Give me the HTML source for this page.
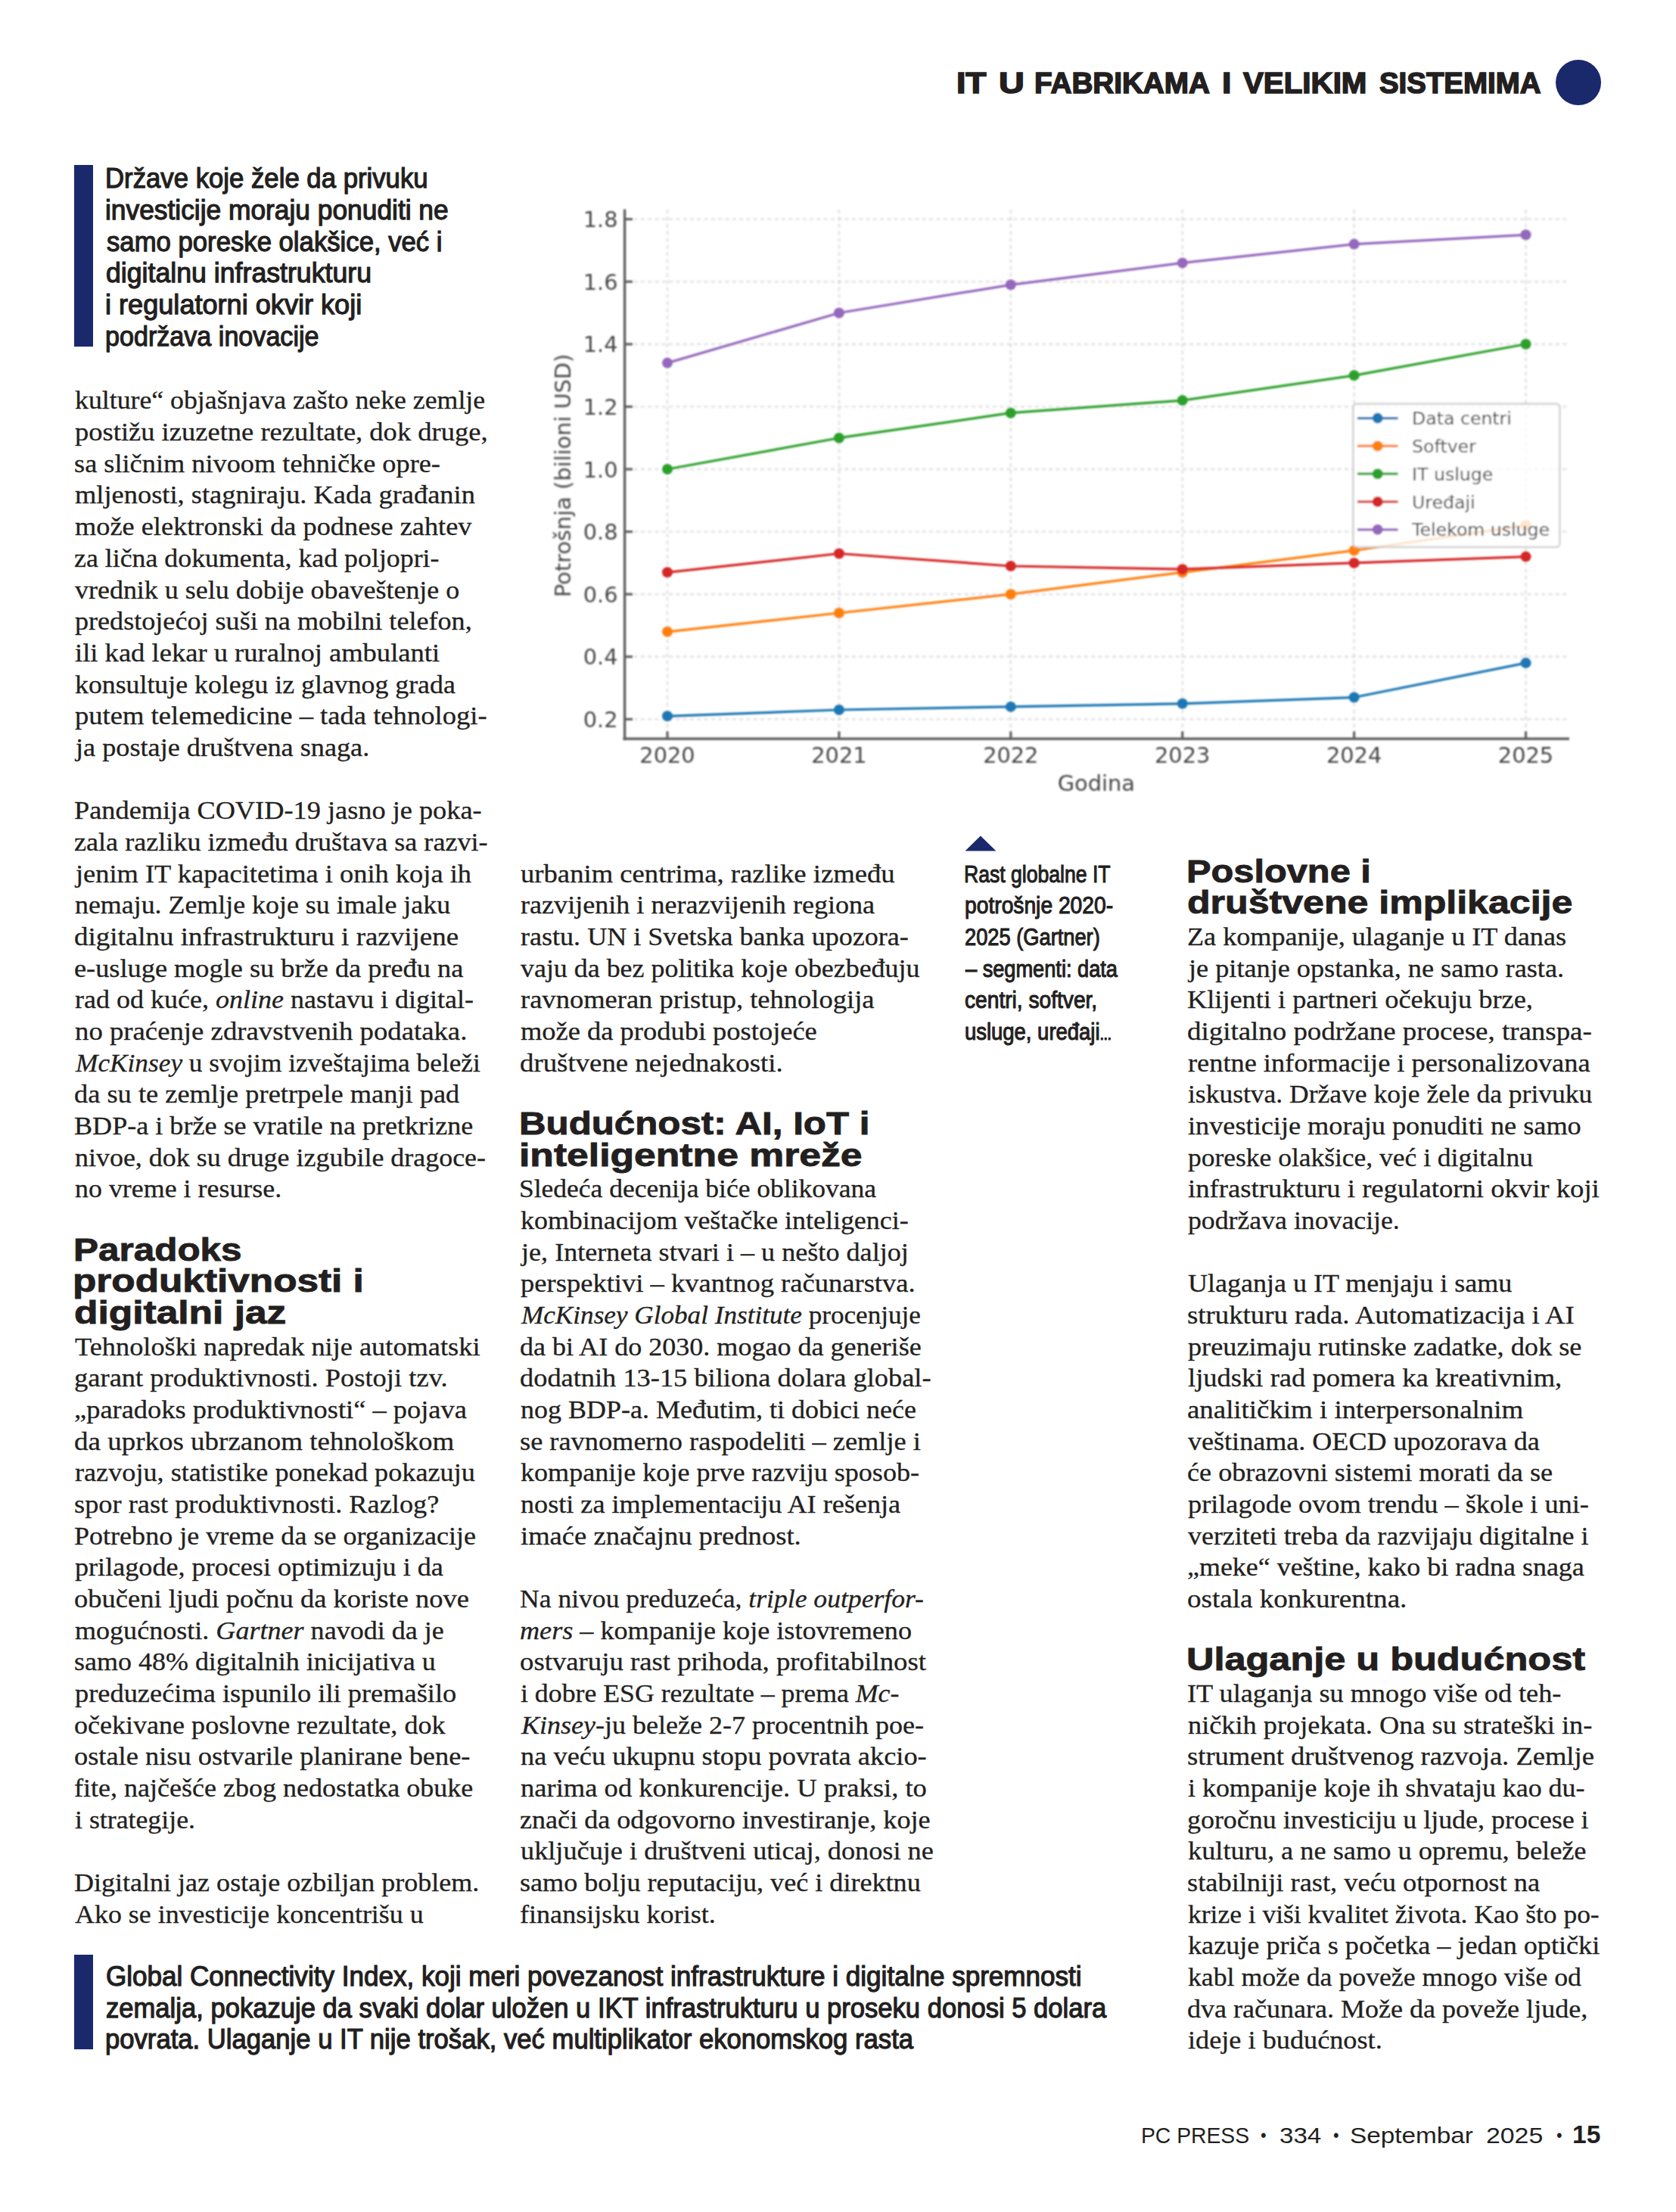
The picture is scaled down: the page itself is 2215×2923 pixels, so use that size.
<!DOCTYPE html>
<html lang="sr"><head><meta charset="utf-8"><title>IT u fabrikama i velikim sistemima</title>
<style>
html,body{margin:0;padding:0;background:#fff;}
body{width:2215px;height:2923px;position:relative;overflow:hidden;color:#231f20;}
.l{position:absolute;white-space:nowrap;line-height:1;transform-origin:0 0;margin:0;padding:0;}
.b{font-family:"Liberation Serif",serif;font-size:34.0px;-webkit-text-stroke:0.3px currentColor;}
.h{font-family:"Liberation Sans",sans-serif;font-weight:bold;font-size:43.0px;-webkit-text-stroke:0.9px currentColor;}
.q{font-family:"Liberation Sans",sans-serif;font-size:37.0px;-webkit-text-stroke:1.25px currentColor;}
.c{font-family:"Liberation Sans",sans-serif;font-size:31.0px;-webkit-text-stroke:1.1px currentColor;}
.t{font-family:"Liberation Sans",sans-serif;font-weight:bold;font-size:39.0px;-webkit-text-stroke:1.6px currentColor;}
.f{font-family:"Liberation Sans",sans-serif;font-size:29.5px;}
.f.k{font-weight:bold;font-size:34px;}
i{font-style:italic;}
.bar{position:absolute;background:#1a296c;}
#chart{position:absolute;left:0;top:0;}
</style></head><body>
<div class="l b" id="L0" style="left:98.80px;top:512.48px;transform:scaleX(1.0518);">kulture“ objašnjava zašto neke zemlje</div>
<div class="l b" id="L1" style="left:98.80px;top:554.15px;transform:scaleX(1.0741);">postižu izuzetne rezultate, dok druge,</div>
<div class="l b" id="L2" style="left:97.73px;top:595.82px;transform:scaleX(1.0678);">sa sličnim nivoom tehničke opre-</div>
<div class="l b" id="L3" style="left:98.80px;top:637.49px;transform:scaleX(1.0710);">mljenosti, stagniraju. Kada građanin</div>
<div class="l b" id="L4" style="left:98.80px;top:679.17px;transform:scaleX(1.0682);">može elektronski da podnese zahtev</div>
<div class="l b" id="L5" style="left:97.75px;top:720.84px;transform:scaleX(1.0537);">za lična dokumenta, kad poljopri-</div>
<div class="l b" id="L6" style="left:98.80px;top:762.51px;transform:scaleX(1.0576);">vrednik u selu dobije obaveštenje o</div>
<div class="l b" id="L7" style="left:98.80px;top:804.19px;transform:scaleX(1.0624);">predstojećoj suši na mobilni telefon,</div>
<div class="l b" id="L8" style="left:98.80px;top:845.86px;transform:scaleX(1.0750);">ili kad lekar u ruralnoj ambulanti</div>
<div class="l b" id="L9" style="left:98.80px;top:887.53px;transform:scaleX(1.0523);">konsultuje kolegu iz glavnog grada</div>
<div class="l b" id="L10" style="left:98.80px;top:929.21px;transform:scaleX(1.0762);">putem telemedicine – tada tehnologi-</div>
<div class="l b" id="L11" style="left:99.87px;top:970.88px;transform:scaleX(1.0653);">ja postaje društvena snaga.</div>
<div class="l b" id="L12" style="left:97.73px;top:1054.22px;transform:scaleX(1.0683);">Pandemija COVID-19 jasno je poka-</div>
<div class="l b" id="L13" style="left:97.74px;top:1095.90px;transform:scaleX(1.0624);">zala razliku između društava sa razvi-</div>
<div class="l b" id="L14" style="left:99.87px;top:1137.57px;transform:scaleX(1.0706);">jenim IT kapacitetima i onih koja ih</div>
<div class="l b" id="L15" style="left:98.80px;top:1179.24px;transform:scaleX(1.0551);">nemaju. Zemlje koje su imale jaku</div>
<div class="l b" id="L16" style="left:97.71px;top:1220.92px;transform:scaleX(1.0871);">digitalnu infrastrukturu i razvijene</div>
<div class="l b" id="L17" style="left:97.73px;top:1262.59px;transform:scaleX(1.0681);">e-usluge mogle su brže da pređu na</div>
<div class="l b" id="L18" style="left:98.80px;top:1304.26px;transform:scaleX(1.0590);">rad od kuće, <i>online</i> nastavu i digital-</div>
<div class="l b" id="L19" style="left:98.80px;top:1345.94px;transform:scaleX(1.0809);">no praćenje zdravstvenih podataka.</div>
<div class="l b" id="L20" style="left:99.84px;top:1387.61px;transform:scaleX(1.0374);"><i>McKinsey</i> u svojim izveštajima beleži</div>
<div class="l b" id="L21" style="left:97.73px;top:1429.28px;transform:scaleX(1.0703);">da su te zemlje pretrpele manji pad</div>
<div class="l b" id="L22" style="left:97.74px;top:1470.95px;transform:scaleX(1.0618);">BDP-a i brže se vratile na pretkrizne</div>
<div class="l b" id="L23" style="left:98.80px;top:1512.63px;transform:scaleX(1.0573);">nivoe, dok su druge izgubile dragoce-</div>
<div class="l b" id="L24" style="left:98.80px;top:1554.30px;transform:scaleX(1.0560);">no vreme i resurse.</div>
<div class="l b" id="L25" style="left:98.80px;top:1762.67px;transform:scaleX(1.0691);">Tehnološki napredak nije automatski</div>
<div class="l b" id="L26" style="left:97.73px;top:1804.34px;transform:scaleX(1.0741);">garant produktivnosti. Postoji tzv.</div>
<div class="l b" id="L27" style="left:97.73px;top:1846.01px;transform:scaleX(1.0712);">„paradoks produktivnosti“ – pojava</div>
<div class="l b" id="L28" style="left:97.71px;top:1887.68px;transform:scaleX(1.0880);">da uprkos ubrzanom tehnološkom</div>
<div class="l b" id="L29" style="left:98.80px;top:1929.36px;transform:scaleX(1.0648);">razvoju, statistike ponekad pokazuju</div>
<div class="l b" id="L30" style="left:97.73px;top:1971.03px;transform:scaleX(1.0686);">spor rast produktivnosti. Razlog?</div>
<div class="l b" id="L31" style="left:97.74px;top:2012.70px;transform:scaleX(1.0605);">Potrebno je vreme da se organizacije</div>
<div class="l b" id="L32" style="left:98.80px;top:2054.38px;transform:scaleX(1.0631);">prilagode, procesi optimizuju i da</div>
<div class="l b" id="L33" style="left:97.73px;top:2096.05px;transform:scaleX(1.0733);">obučeni ljudi počnu da koriste nove</div>
<div class="l b" id="L34" style="left:98.80px;top:2137.72px;transform:scaleX(1.0608);">mogućnosti. <i>Gartner</i> navodi da je</div>
<div class="l b" id="L35" style="left:97.74px;top:2179.39px;transform:scaleX(1.0582);">samo 48% digitalnih inicijativa u</div>
<div class="l b" id="L36" style="left:98.80px;top:2221.07px;transform:scaleX(1.0702);">preduzećima ispunilo ili premašilo</div>
<div class="l b" id="L37" style="left:97.74px;top:2262.74px;transform:scaleX(1.0602);">očekivane poslovne rezultate, dok</div>
<div class="l b" id="L38" style="left:97.73px;top:2304.41px;transform:scaleX(1.0704);">ostale nisu ostvarile planirane bene-</div>
<div class="l b" id="L39" style="left:97.74px;top:2346.09px;transform:scaleX(1.0597);">fite, najčešće zbog nedostatka obuke</div>
<div class="l b" id="L40" style="left:98.80px;top:2387.76px;transform:scaleX(1.0523);">i strategije.</div>
<div class="l b" id="L41" style="left:97.74px;top:2471.11px;transform:scaleX(1.0598);">Digitalni jaz ostaje ozbiljan problem.</div>
<div class="l b" id="L42" style="left:98.80px;top:2512.78px;transform:scaleX(1.0560);">Ako se investicije koncentrišu u</div>
<div class="l b" id="L43" style="left:687.90px;top:1137.57px;transform:scaleX(1.0780);">urbanim centrima, razlike između</div>
<div class="l b" id="L44" style="left:687.90px;top:1179.24px;transform:scaleX(1.0619);">razvijenih i nerazvijenih regiona</div>
<div class="l b" id="L45" style="left:687.90px;top:1220.92px;transform:scaleX(1.0608);">rastu. UN i Svetska banka upozora-</div>
<div class="l b" id="L46" style="left:687.90px;top:1262.59px;transform:scaleX(1.0561);">vaju da bez politika koje obezbeđuju</div>
<div class="l b" id="L47" style="left:687.90px;top:1304.26px;transform:scaleX(1.0740);">ravnomeran pristup, tehnologija</div>
<div class="l b" id="L48" style="left:687.90px;top:1345.94px;transform:scaleX(1.0723);">može da produbi postojeće</div>
<div class="l b" id="L49" style="left:686.82px;top:1387.61px;transform:scaleX(1.0830);">društvene nejednakosti.</div>
<div class="l b" id="L50" style="left:685.81px;top:1554.30px;transform:scaleX(1.0438);">Sledeća decenija biće oblikovana</div>
<div class="l b" id="L51" style="left:687.90px;top:1595.97px;transform:scaleX(1.0564);">kombinacijom veštačke inteligenci-</div>
<div class="l b" id="L52" style="left:688.96px;top:1637.65px;transform:scaleX(1.0629);">je, Interneta stvari i – u nešto daljoj</div>
<div class="l b" id="L53" style="left:687.90px;top:1679.32px;transform:scaleX(1.0749);">perspektivi – kvantnog računarstva.</div>
<div class="l b" id="L54" style="left:688.93px;top:1720.99px;transform:scaleX(1.0335);"><i>McKinsey Global Institute</i> procenjuje</div>
<div class="l b" id="L55" style="left:686.84px;top:1762.67px;transform:scaleX(1.0604);">da bi AI do 2030. mogao da generiše</div>
<div class="l b" id="L56" style="left:686.83px;top:1804.34px;transform:scaleX(1.0700);">dodatnih 13-15 biliona dolara global-</div>
<div class="l b" id="L57" style="left:687.90px;top:1846.01px;transform:scaleX(1.0588);">nog BDP-a. Međutim, ti dobici neće</div>
<div class="l b" id="L58" style="left:686.83px;top:1887.68px;transform:scaleX(1.0690);">se ravnomerno raspodeliti – zemlje i</div>
<div class="l b" id="L59" style="left:687.90px;top:1929.36px;transform:scaleX(1.0611);">kompanije koje prve razviju sposob-</div>
<div class="l b" id="L60" style="left:687.90px;top:1971.03px;transform:scaleX(1.0636);">nosti za implementaciju AI rešenja</div>
<div class="l b" id="L61" style="left:687.90px;top:2012.70px;transform:scaleX(1.0760);">imaće značajnu prednost.</div>
<div class="l b" id="L62" style="left:686.85px;top:2096.05px;transform:scaleX(1.0467);">Na nivou preduzeća, <i>triple outperfor-</i></div>
<div class="l b" id="L63" style="left:686.84px;top:2137.72px;transform:scaleX(1.0631);"><i>mers</i> – kompanije koje istovremeno</div>
<div class="l b" id="L64" style="left:686.82px;top:2179.39px;transform:scaleX(1.0812);">ostvaruju rast prihoda, profitabilnost</div>
<div class="l b" id="L65" style="left:687.90px;top:2221.07px;transform:scaleX(1.0516);">i dobre ESG rezultate – prema <i>Mc-</i></div>
<div class="l b" id="L66" style="left:688.96px;top:2262.74px;transform:scaleX(1.0592);"><i>Kinsey</i>-ju beleže 2-7 procentnih poe-</div>
<div class="l b" id="L67" style="left:687.90px;top:2304.41px;transform:scaleX(1.0706);">na veću ukupnu stopu povrata akcio-</div>
<div class="l b" id="L68" style="left:687.90px;top:2346.09px;transform:scaleX(1.0749);">narima od konkurencije. U praksi, to</div>
<div class="l b" id="L69" style="left:686.84px;top:2387.76px;transform:scaleX(1.0621);">znači da odgovorno investiranje, koje</div>
<div class="l b" id="L70" style="left:687.90px;top:2429.43px;transform:scaleX(1.0665);">uključuje i društveni uticaj, donosi ne</div>
<div class="l b" id="L71" style="left:686.84px;top:2471.11px;transform:scaleX(1.0626);">samo bolju reputaciju, već i direktnu</div>
<div class="l b" id="L72" style="left:686.84px;top:2512.78px;transform:scaleX(1.0622);">finansijsku korist.</div>
<div class="l b" id="L73" style="left:1569.34px;top:1220.92px;transform:scaleX(1.0628);">Za kompanije, ulaganje u IT danas</div>
<div class="l b" id="L74" style="left:1571.47px;top:1262.59px;transform:scaleX(1.0657);">je pitanje opstanka, ne samo rasta.</div>
<div class="l b" id="L75" style="left:1569.33px;top:1304.26px;transform:scaleX(1.0682);">Klijenti i partneri očekuju brze,</div>
<div class="l b" id="L76" style="left:1569.31px;top:1345.94px;transform:scaleX(1.0851);">digitalno podržane procese, transpa-</div>
<div class="l b" id="L77" style="left:1570.40px;top:1387.61px;transform:scaleX(1.0684);">rentne informacije i personalizovana</div>
<div class="l b" id="L78" style="left:1570.40px;top:1429.28px;transform:scaleX(1.0441);">iskustva. Države koje žele da privuku</div>
<div class="l b" id="L79" style="left:1570.40px;top:1470.95px;transform:scaleX(1.0667);">investicije moraju ponuditi ne samo</div>
<div class="l b" id="L80" style="left:1570.40px;top:1512.63px;transform:scaleX(1.0430);">poreske olakšice, već i digitalnu</div>
<div class="l b" id="L81" style="left:1570.40px;top:1554.30px;transform:scaleX(1.0784);">infrastrukturu i regulatorni okvir koji</div>
<div class="l b" id="L82" style="left:1570.40px;top:1595.97px;transform:scaleX(1.0511);">podržava inovacije.</div>
<div class="l b" id="L83" style="left:1570.40px;top:1679.32px;transform:scaleX(1.0592);">Ulaganja u IT menjaju i samu</div>
<div class="l b" id="L84" style="left:1569.32px;top:1720.99px;transform:scaleX(1.0817);">strukturu rada. Automatizacija i AI</div>
<div class="l b" id="L85" style="left:1570.40px;top:1762.67px;transform:scaleX(1.0661);">preuzimaju rutinske zadatke, dok se</div>
<div class="l b" id="L86" style="left:1570.40px;top:1804.34px;transform:scaleX(1.0749);">ljudski rad pomera ka kreativnim,</div>
<div class="l b" id="L87" style="left:1569.32px;top:1846.01px;transform:scaleX(1.0838);">analitičkim i interpersonalnim</div>
<div class="l b" id="L88" style="left:1570.40px;top:1887.68px;transform:scaleX(1.0610);">veštinama. OECD upozorava da</div>
<div class="l b" id="L89" style="left:1569.34px;top:1929.36px;transform:scaleX(1.0637);">će obrazovni sistemi morati da se</div>
<div class="l b" id="L90" style="left:1570.40px;top:1971.03px;transform:scaleX(1.0669);">prilagode ovom trendu – škole i uni-</div>
<div class="l b" id="L91" style="left:1570.40px;top:2012.70px;transform:scaleX(1.0563);">verziteti treba da razvijaju digitalne i</div>
<div class="l b" id="L92" style="left:1569.34px;top:2054.38px;transform:scaleX(1.0568);">„meke“ veštine, kako bi radna snaga</div>
<div class="l b" id="L93" style="left:1569.31px;top:2096.05px;transform:scaleX(1.0905);">ostala konkurentna.</div>
<div class="l b" id="L94" style="left:1569.33px;top:2221.07px;transform:scaleX(1.0656);">IT ulaganja su mnogo više od teh-</div>
<div class="l b" id="L95" style="left:1570.40px;top:2262.74px;transform:scaleX(1.0677);">ničkih projekata. Ona su strateški in-</div>
<div class="l b" id="L96" style="left:1569.33px;top:2304.41px;transform:scaleX(1.0749);">strument društvenog razvoja. Zemlje</div>
<div class="l b" id="L97" style="left:1570.40px;top:2346.09px;transform:scaleX(1.0560);">i kompanije koje ih shvataju kao du-</div>
<div class="l b" id="L98" style="left:1569.34px;top:2387.76px;transform:scaleX(1.0563);">goročnu investiciju u ljude, procese i</div>
<div class="l b" id="L99" style="left:1570.40px;top:2429.43px;transform:scaleX(1.0683);">kulturu, a ne samo u opremu, beleže</div>
<div class="l b" id="L100" style="left:1569.33px;top:2471.11px;transform:scaleX(1.0707);">stabilniji rast, veću otpornost na</div>
<div class="l b" id="L101" style="left:1570.40px;top:2512.78px;transform:scaleX(1.0431);">krize i viši kvalitet života. Kao što po-</div>
<div class="l b" id="L102" style="left:1570.40px;top:2554.45px;transform:scaleX(1.0636);">kazuje priča s početka – jedan optički</div>
<div class="l b" id="L103" style="left:1570.40px;top:2596.12px;transform:scaleX(1.0509);">kabl može da poveže mnogo više od</div>
<div class="l b" id="L104" style="left:1569.34px;top:2637.80px;transform:scaleX(1.0597);">dva računara. Može da poveže ljude,</div>
<div class="l b" id="L105" style="left:1570.40px;top:2679.47px;transform:scaleX(1.0661);">ideje i budućnost.</div>
<div class="l h" id="L106" style="left:96.50px;top:1629.74px;transform:scaleX(1.1495);">Paradoks</div>
<div class="l h" id="L107" style="left:96.41px;top:1671.41px;transform:scaleX(1.1934);">produktivnosti i</div>
<div class="l h" id="L108" style="left:97.60px;top:1713.09px;transform:scaleX(1.1974);">digitalni jaz</div>
<div class="l h" id="L109" style="left:685.61px;top:1463.05px;transform:scaleX(1.1458);">Budućnost: AI, IoT i</div>
<div class="l h" id="L110" style="left:685.50px;top:1504.72px;transform:scaleX(1.2013);">inteligentne mreže</div>
<div class="l h" id="L111" style="left:1568.13px;top:1129.67px;transform:scaleX(1.1338);">Poslovne i</div>
<div class="l h" id="L112" style="left:1569.24px;top:1171.34px;transform:scaleX(1.1646);">društvene implikacije</div>
<div class="l h" id="L113" style="left:1568.05px;top:2171.49px;transform:scaleX(1.1734);">Ulaganje u budućnost</div>
<div class="l q" id="L114" style="left:138.92px;top:217.47px;transform:scaleX(0.9386);">Države koje žele da privuku</div>
<div class="l q" id="L115" style="left:138.89px;top:259.14px;transform:scaleX(0.9549);">investicije moraju ponuditi ne</div>
<div class="l q" id="L116" style="left:140.80px;top:300.81px;transform:scaleX(0.9378);">samo poreske olakšice, već i</div>
<div class="l q" id="L117" style="left:139.84px;top:342.49px;transform:scaleX(0.9643);">digitalnu infrastrukturu</div>
<div class="l q" id="L118" style="left:138.85px;top:384.16px;transform:scaleX(0.9762);">i regulatorni okvir koji</div>
<div class="l q" id="L119" style="left:138.96px;top:425.83px;transform:scaleX(0.9220);">podržava inovacije</div>
<div class="l q" id="L120" style="left:139.85px;top:2592.83px;transform:scaleX(0.9472);">Global Connectivity Index, koji meri povezanost infrastrukture i digitalne spremnosti</div>
<div class="l q" id="L121" style="left:139.87px;top:2634.50px;transform:scaleX(0.9349);">zemalja, pokazuje da svaki dolar uložen u IKT infrastrukturu u proseku donosi 5 dolara</div>
<div class="l q" id="L122" style="left:138.93px;top:2676.18px;transform:scaleX(0.9363);">povrata. Ulaganje u IT nije trošak, već multiplikator ekonomskog rasta</div>
<div class="l c" id="L123" style="left:1273.78px;top:1139.65px;transform:scaleX(0.8576);">Rast globalne IT</div>
<div class="l c" id="L124" style="left:1274.59px;top:1181.33px;transform:scaleX(0.9103);">potrošnje 2020-</div>
<div class="l c" id="L125" style="left:1274.62px;top:1223.00px;transform:scaleX(0.8791);">2025 (Gartner)</div>
<div class="l c" id="L126" style="left:1276.38px;top:1264.67px;transform:scaleX(0.8766);">– segmenti: data</div>
<div class="l c" id="L127" style="left:1274.59px;top:1306.35px;transform:scaleX(0.9079);">centri, softver,</div>
<div class="l c" id="L128" style="left:1274.61px;top:1348.02px;transform:scaleX(0.8853);">usluge, uređaji<span style="font-size:.72em;letter-spacing:-.6px">...</span></div>
<div class="l t" id="L129" style="left:1263.52px;top:90.36px;transform:scaleX(1.1394);">IT</div>
<div class="l t" id="L130" style="left:1320.40px;top:90.36px;transform:scaleX(1.2000);">U</div>
<div class="l t" id="L131" style="left:1366.92px;top:90.36px;transform:scaleX(0.9909);">FABRIKAMA</div>
<div class="l t" id="L132" style="left:1615.31px;top:90.36px;transform:scaleX(1.1429);">I</div>
<div class="l t" id="L133" style="left:1642.73px;top:90.36px;transform:scaleX(1.0331);">VELIKIM</div>
<div class="l t" id="L134" style="left:1822.70px;top:90.36px;transform:scaleX(0.9848);">SISTEMIMA</div>
<div class="l f" id="L135" style="left:1508.48px;top:2807.04px;transform:scaleX(0.9589);">PC PRESS</div>
<div class="l f" id="L136" style="left:1666.30px;top:2810.20px;transform:scaleX(0.9000);font-size:24px;">•</div>
<div class="l f" id="L137" style="left:1690.68px;top:2807.04px;transform:scaleX(1.1213);">334</div>
<div class="l f" id="L138" style="left:1762.40px;top:2810.20px;transform:scaleX(0.9000);font-size:24px;">•</div>
<div class="l f" id="L139" style="left:1784.04px;top:2807.04px;transform:scaleX(1.1282);">Septembar</div>
<div class="l f" id="L140" style="left:1964.45px;top:2807.04px;transform:scaleX(1.1460);">2025</div>
<div class="l f" id="L141" style="left:2057.30px;top:2810.20px;transform:scaleX(0.9000);font-size:24px;">•</div>
<div class="l f k" id="L142" style="left:2077.63px;top:2803.23px;transform:scaleX(0.9857);font-size:34px;">15</div>
<div class="bar" style="left:98.3px;top:218.4px;width:24.5px;height:239.6px;"></div>
<div class="bar" style="left:98.2px;top:2583.4px;width:24.6px;height:124.2px;"></div>
<div class="bar" style="left:2056.4px;top:79.1px;width:59.8px;height:59.8px;border-radius:50%;"></div>
<svg style="position:absolute;left:1275px;top:1104px;" width="42" height="21" viewBox="0 0 42 21"><polygon points="0.5,20.5 20.9,0.6 41.4,20.5" fill="#1a296c"/></svg>
<svg id="chart" width="2215" height="1100" viewBox="0 0 2215 1100" font-family="'DejaVu Sans','Liberation Sans',sans-serif">
<defs><filter id="bl" x="-2%" y="-2%" width="104%" height="104%"><feGaussianBlur stdDeviation="1.15"/></filter></defs>
<g filter="url(#bl)">
<g stroke="#c4c4c4" stroke-opacity="0.36" stroke-width="3.4" stroke-dasharray="5.5 3.8" fill="none"><line x1="882.0" y1="277" x2="882.0" y2="975"/><line x1="1108.9" y1="277" x2="1108.9" y2="975"/><line x1="1335.8" y1="277" x2="1335.8" y2="975"/><line x1="1562.7" y1="277" x2="1562.7" y2="975"/><line x1="1789.6" y1="277" x2="1789.6" y2="975"/><line x1="2016.5" y1="277" x2="2016.5" y2="975"/><line x1="828" y1="950.4" x2="2071" y2="950.4"/><line x1="828" y1="867.8" x2="2071" y2="867.8"/><line x1="828" y1="785.2" x2="2071" y2="785.2"/><line x1="828" y1="702.6" x2="2071" y2="702.6"/><line x1="828" y1="620.0" x2="2071" y2="620.0"/><line x1="828" y1="537.4" x2="2071" y2="537.4"/><line x1="828" y1="454.8" x2="2071" y2="454.8"/><line x1="828" y1="372.2" x2="2071" y2="372.2"/><line x1="828" y1="289.6" x2="2071" y2="289.6"/></g>
<polyline points="882.0,946.3 1108.9,938.0 1335.8,933.9 1562.7,929.8 1789.6,921.5 2016.5,876.1" fill="none" stroke="#1f77b4" stroke-width="3.2" stroke-linejoin="round"/>
<g fill="#1f77b4"><circle cx="882.0" cy="946.3" r="7"/><circle cx="1108.9" cy="938.0" r="7"/><circle cx="1335.8" cy="933.9" r="7"/><circle cx="1562.7" cy="929.8" r="7"/><circle cx="1789.6" cy="921.5" r="7"/><circle cx="2016.5" cy="876.1" r="7"/></g>
<polyline points="882.0,834.8 1108.9,810.0 1335.8,785.2 1562.7,756.3 1789.6,727.4 2016.5,694.3" fill="none" stroke="#ff7f0e" stroke-width="3.2" stroke-linejoin="round"/>
<g fill="#ff7f0e"><circle cx="882.0" cy="834.8" r="7"/><circle cx="1108.9" cy="810.0" r="7"/><circle cx="1335.8" cy="785.2" r="7"/><circle cx="1562.7" cy="756.3" r="7"/><circle cx="1789.6" cy="727.4" r="7"/><circle cx="2016.5" cy="694.3" r="7"/></g>
<polyline points="882.0,620.0 1108.9,578.7 1335.8,545.7 1562.7,529.1 1789.6,496.1 2016.5,454.8" fill="none" stroke="#2ca02c" stroke-width="3.2" stroke-linejoin="round"/>
<g fill="#2ca02c"><circle cx="882.0" cy="620.0" r="7"/><circle cx="1108.9" cy="578.7" r="7"/><circle cx="1335.8" cy="545.7" r="7"/><circle cx="1562.7" cy="529.1" r="7"/><circle cx="1789.6" cy="496.1" r="7"/><circle cx="2016.5" cy="454.8" r="7"/></g>
<polyline points="882.0,756.3 1108.9,731.5 1335.8,748.0 1562.7,752.2 1789.6,743.9 2016.5,735.6" fill="none" stroke="#d62728" stroke-width="3.2" stroke-linejoin="round"/>
<g fill="#d62728"><circle cx="882.0" cy="756.3" r="7"/><circle cx="1108.9" cy="731.5" r="7"/><circle cx="1335.8" cy="748.0" r="7"/><circle cx="1562.7" cy="752.2" r="7"/><circle cx="1789.6" cy="743.9" r="7"/><circle cx="2016.5" cy="735.6" r="7"/></g>
<polyline points="882.0,479.6 1108.9,413.5 1335.8,376.3 1562.7,347.4 1789.6,322.6 2016.5,310.3" fill="none" stroke="#9467bd" stroke-width="3.2" stroke-linejoin="round"/>
<g fill="#9467bd"><circle cx="882.0" cy="479.6" r="7"/><circle cx="1108.9" cy="413.5" r="7"/><circle cx="1335.8" cy="376.3" r="7"/><circle cx="1562.7" cy="347.4" r="7"/><circle cx="1789.6" cy="322.6" r="7"/><circle cx="2016.5" cy="310.3" r="7"/></g>
<g stroke="#626262" fill="none">
<line x1="825.6" y1="276.5" x2="825.6" y2="978.3" stroke-width="3.4"/>
<line x1="823.4" y1="976.3" x2="2074" y2="976.3" stroke-width="3.4"/>
<line x1="882.0" y1="966.5" x2="882.0" y2="975" stroke-width="3.2"/>
<line x1="1108.9" y1="966.5" x2="1108.9" y2="975" stroke-width="3.2"/>
<line x1="1335.8" y1="966.5" x2="1335.8" y2="975" stroke-width="3.2"/>
<line x1="1562.7" y1="966.5" x2="1562.7" y2="975" stroke-width="3.2"/>
<line x1="1789.6" y1="966.5" x2="1789.6" y2="975" stroke-width="3.2"/>
<line x1="2016.5" y1="966.5" x2="2016.5" y2="975" stroke-width="3.2"/>
<line x1="827" y1="950.4" x2="836" y2="950.4" stroke-width="3.2"/>
<line x1="827" y1="867.8" x2="836" y2="867.8" stroke-width="3.2"/>
<line x1="827" y1="785.2" x2="836" y2="785.2" stroke-width="3.2"/>
<line x1="827" y1="702.6" x2="836" y2="702.6" stroke-width="3.2"/>
<line x1="827" y1="620.0" x2="836" y2="620.0" stroke-width="3.2"/>
<line x1="827" y1="537.4" x2="836" y2="537.4" stroke-width="3.2"/>
<line x1="827" y1="454.8" x2="836" y2="454.8" stroke-width="3.2"/>
<line x1="827" y1="372.2" x2="836" y2="372.2" stroke-width="3.2"/>
<line x1="827" y1="289.6" x2="836" y2="289.6" stroke-width="3.2"/>
</g>
<g fill="#474747" font-size="28.8">
<text x="882.0" y="1007.6" text-anchor="middle">2020</text>
<text x="1108.9" y="1007.6" text-anchor="middle">2021</text>
<text x="1335.8" y="1007.6" text-anchor="middle">2022</text>
<text x="1562.7" y="1007.6" text-anchor="middle">2023</text>
<text x="1789.6" y="1007.6" text-anchor="middle">2024</text>
<text x="2016.5" y="1007.6" text-anchor="middle">2025</text>
<text x="816.6" y="961.0" text-anchor="end">0.2</text>
<text x="816.6" y="878.4" text-anchor="end">0.4</text>
<text x="816.6" y="795.8" text-anchor="end">0.6</text>
<text x="816.6" y="713.2" text-anchor="end">0.8</text>
<text x="816.6" y="630.6" text-anchor="end">1.0</text>
<text x="816.6" y="548.0" text-anchor="end">1.2</text>
<text x="816.6" y="465.4" text-anchor="end">1.4</text>
<text x="816.6" y="382.8" text-anchor="end">1.6</text>
<text x="816.6" y="300.2" text-anchor="end">1.8</text>
<text x="1448.8" y="1045.4" text-anchor="middle">Godina</text>
<text transform="translate(754,628.4) rotate(-90)" text-anchor="middle">Potrošnja (bilioni USD)</text>
</g>
<rect x="1788.2" y="533.6" width="273.2" height="189.3" rx="5" fill="#fff" fill-opacity="0.8" stroke="#ccc" stroke-opacity="0.8" stroke-width="2.8"/>
<line x1="1793.9" y1="552.6" x2="1847.5" y2="552.6" stroke="#1f77b4" stroke-width="3.2"/>
<circle cx="1820.7" cy="552.6" r="7" fill="#1f77b4"/>
<text x="1866.1" y="561.1" font-size="23.6" fill="#474747">Data centri</text>
<line x1="1793.9" y1="589.4" x2="1847.5" y2="589.4" stroke="#ff7f0e" stroke-width="3.2"/>
<circle cx="1820.7" cy="589.4" r="7" fill="#ff7f0e"/>
<text x="1866.1" y="597.9" font-size="23.6" fill="#474747">Softver</text>
<line x1="1793.9" y1="626.2" x2="1847.5" y2="626.2" stroke="#2ca02c" stroke-width="3.2"/>
<circle cx="1820.7" cy="626.2" r="7" fill="#2ca02c"/>
<text x="1866.1" y="634.7" font-size="23.6" fill="#474747">IT usluge</text>
<line x1="1793.9" y1="663.0" x2="1847.5" y2="663.0" stroke="#d62728" stroke-width="3.2"/>
<circle cx="1820.7" cy="663.0" r="7" fill="#d62728"/>
<text x="1866.1" y="671.5" font-size="23.6" fill="#474747">Uređaji</text>
<line x1="1793.9" y1="699.8" x2="1847.5" y2="699.8" stroke="#9467bd" stroke-width="3.2"/>
<circle cx="1820.7" cy="699.8" r="7" fill="#9467bd"/>
<text x="1866.1" y="708.3" font-size="23.6" fill="#474747">Telekom usluge</text>
</g></svg>
</body></html>
